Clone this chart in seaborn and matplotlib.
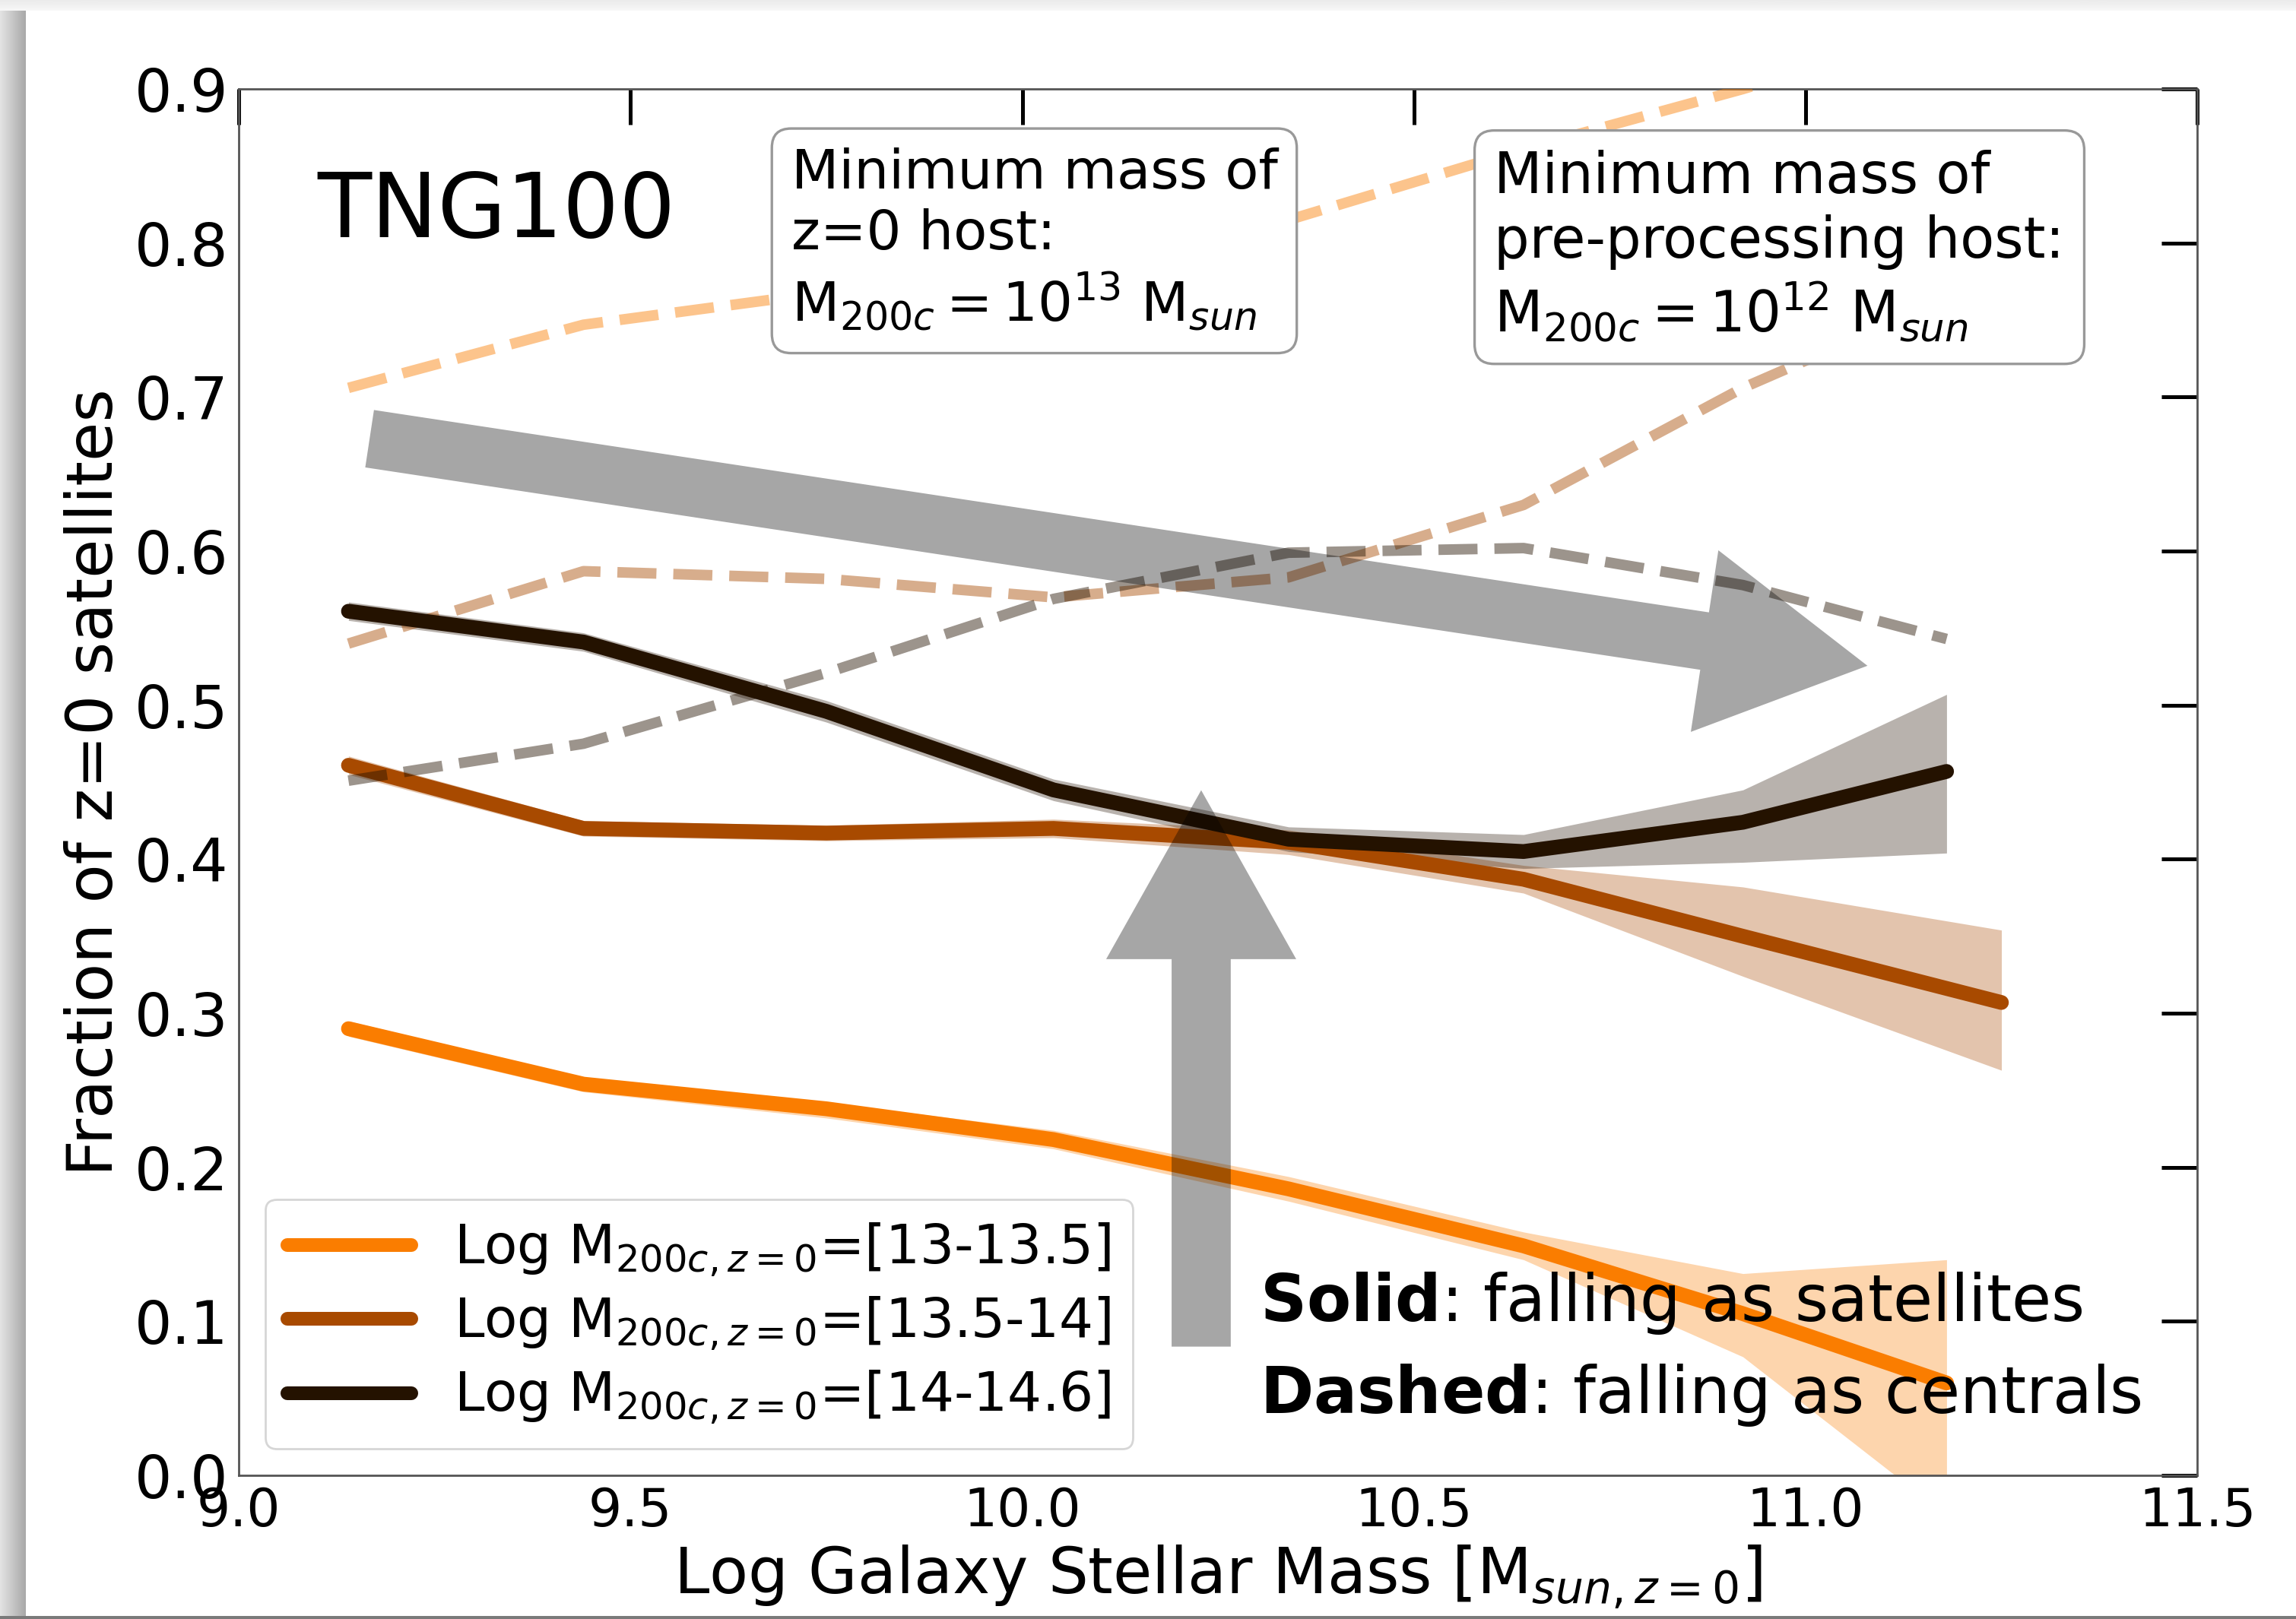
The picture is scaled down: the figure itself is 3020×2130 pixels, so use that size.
import numpy as np
import pandas as pd
import seaborn as sns
import matplotlib.pyplot as plt

# host mass bins (z=0) and their colours
mass_bins = ["[13-13.5]", "[13.5-14]", "[14-14.6]"]
colors = ["#FA7D00", "#A84A00", "#241200"]

# stellar mass bin centres (last bin differs per host bin)
x_orange = [9.14, 9.44, 9.75, 10.04, 10.34, 10.64, 10.92, 11.18]
x_brown = [9.14, 9.44, 9.75, 10.04, 10.34, 10.64, 10.92, 11.25]
x_black = [9.14, 9.44, 9.75, 10.04, 10.34, 10.64, 10.92, 11.18]

# solid: falling as satellites
sat_orange = [0.290, 0.254, 0.238, 0.218, 0.186, 0.149, 0.105, 0.060]
sat_brown = [0.461, 0.420, 0.417, 0.420, 0.411, 0.387, 0.350, 0.307]
sat_black = [0.561, 0.541, 0.496, 0.445, 0.413, 0.405, 0.424, 0.457]

# error bands
lo_orange = [0.285, 0.249, 0.232, 0.212, 0.178, 0.140, 0.077, -0.026]
hi_orange = [0.295, 0.258, 0.242, 0.224, 0.194, 0.158, 0.131, 0.140]
lo_brown = [0.455, 0.415, 0.412, 0.414, 0.403, 0.378, 0.324, 0.263]
hi_brown = [0.467, 0.425, 0.422, 0.426, 0.419, 0.396, 0.382, 0.354]
lo_black = [0.555, 0.535, 0.489, 0.438, 0.405, 0.394, 0.398, 0.404]
hi_black = [0.567, 0.547, 0.503, 0.452, 0.421, 0.416, 0.445, 0.507]

# dashed: falling as centrals
cen_orange = [0.706, 0.747, 0.768, 0.787, 0.815, 0.861, 0.900, 0.940]
cen_brown = [0.540, 0.587, 0.582, 0.570, 0.583, 0.630, 0.706, 0.779]
cen_black = [0.451, 0.475, 0.521, 0.569, 0.599, 0.602, 0.578, 0.543]

xs = [x_orange, x_brown, x_black]
sats = [sat_orange, sat_brown, sat_black]
los = [lo_orange, lo_brown, lo_black]
his = [hi_orange, hi_brown, hi_black]
cens = [cen_orange, cen_brown, cen_black]

sns.set_style("white")
plt.rcParams["font.family"] = ["DejaVu Sans"]
plt.rcParams["mathtext.fontset"] = "dejavusans"
plt.rcParams["text.color"] = "black"
plt.rcParams["axes.labelcolor"] = "black"
plt.rcParams["xtick.color"] = "black"
plt.rcParams["ytick.color"] = "black"

fig = plt.figure(figsize=(15.1, 10.65), dpi=200)
fig.subplots_adjust(left=0.104, right=0.957, bottom=0.0887, top=0.945)
ax = fig.add_subplot(111)

# slide shadow around the picture
sh = fig.add_axes([0, 0, 34 / 3020, 1], zorder=-5)
sh.imshow(np.linspace(0.89, 0.66, 50)[None, :], cmap="gray", vmin=0, vmax=1,
          aspect="auto", extent=[0, 1, 0, 1])
sh.axis("off")
st = fig.add_axes([0, 1 - 14 / 2130, 1, 14 / 2130], zorder=-5)
st.imshow(np.linspace(0.92, 0.97, 20)[:, None], cmap="gray", vmin=0, vmax=1,
          aspect="auto", extent=[0, 1, 0, 1])
st.axis("off")
sb = fig.add_axes([0, 0, 1, 4 / 2130], zorder=-5)
sb.set_facecolor("#7a7a7a")
sb.set_xticks([])
sb.set_yticks([])
for s in sb.spines.values():
    s.set_visible(False)

for i in range(3):
    df_sat = pd.DataFrame({"mass": xs[i], "frac": sats[i]})
    df_cen = pd.DataFrame({"mass": xs[i], "frac": cens[i]})
    ax.fill_between(xs[i], los[i], his[i], color=colors[i], alpha=0.32, lw=0, zorder=2)
    sns.lineplot(data=df_sat, x="mass", y="frac", ax=ax, color=colors[i], lw=7,
                 label=r"Log M$_{200c,z=0}$=" + mass_bins[i], zorder=3)
    sns.lineplot(data=df_cen, x="mass", y="frac", ax=ax, color=colors[i], lw=5,
                 alpha=0.45, linestyle="--", zorder=3)

ax.set_xlim(9.0, 11.5)
ax.set_ylim(0.0, 0.9)
ax.set_xticks([9.0, 9.5, 10.0, 10.5, 11.0, 11.5])
ax.set_yticks(np.arange(0, 0.91, 0.1))
ax.set_yticklabels(["0.0", "0.1", "0.2", "0.3", "0.4", "0.5", "0.6", "0.7", "0.8", "0.9"])
ax.tick_params(direction="in", length=17, width=1.8, top=True, right=True, pad=5)
ax.tick_params(axis="x", labelsize=25)
ax.tick_params(axis="y", labelsize=28)
for s in ax.spines.values():
    s.set_linewidth(1.0)
    s.set_color("#555555")

ax.set_xlabel(r"Log Galaxy Stellar Mass [M$_{sun,z=0}$]", fontsize=30, labelpad=3)
ax.set_ylabel("Fraction of z=0 satellites", fontsize=30)

# big gray arrows
ax.annotate("", xy=(11.079, 0.5256), xytext=(9.167, 0.673),
            arrowprops=dict(arrowstyle="simple,head_length=78,head_width=87,tail_width=27.5",
                            mutation_scale=1, color="black", alpha=0.35, lw=0,
                            shrinkA=0, shrinkB=0), zorder=6)
ax.annotate("", xy=(10.2285, 0.4448), xytext=(10.2285, 0.0836),
            arrowprops=dict(arrowstyle="simple,head_length=80,head_width=90,tail_width=28",
                            mutation_scale=1, color="black", alpha=0.35, lw=0,
                            shrinkA=0, shrinkB=0), zorder=6)

ax.text(9.1, 0.82, "TNG100", fontsize=42, va="center", ha="left")

box = dict(boxstyle="round,pad=0.35", facecolor="white", edgecolor="#999999", lw=1.2)
ax.text(0.282, 0.958, "Minimum mass of\nz=0 host:\n" + r"M$_{200c}=10^{13}$ M$_{sun}$",
        transform=ax.transAxes, fontsize=26, va="top", ha="left", bbox=box, zorder=7)
ax.text(0.641, 0.956, "Minimum mass of\npre-processing host:\n" + r"M$_{200c}=10^{12}$ M$_{sun}$",
        transform=ax.transAxes, fontsize=26.5, va="top", ha="left", bbox=box, zorder=7)

ax.text(10.303, 0.112, r"$\bf{Solid}$: falling as satellites", fontsize=30.5,
        va="center", ha="left", zorder=8)
ax.text(10.303, 0.052, r"$\bf{Dashed}$: falling as centrals", fontsize=30.5,
        va="center", ha="left", zorder=8)

leg = ax.legend(loc="lower left", fontsize=25.5, handlelength=2.3, labelspacing=0.3,
                handletextpad=0.8, frameon=True, framealpha=0.8, edgecolor="#cccccc",
                fancybox=True)
for line in leg.get_lines():
    line.set_linewidth(6.5)

fig.savefig("out.png", dpi=200, facecolor="white")
